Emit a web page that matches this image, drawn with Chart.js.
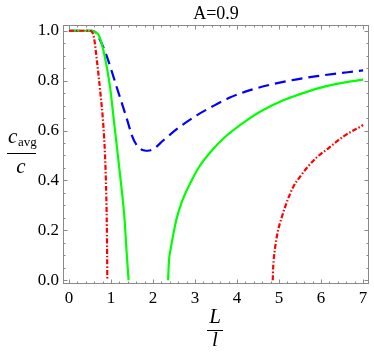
<!DOCTYPE html>
<html>
<head>
<meta charset="utf-8">
<script src="https://cdn.jsdelivr.net/npm/chart.js@4.4.0/dist/chart.umd.min.js"></script>
<style>
  html, body { margin: 0; padding: 0; background: #fff; }
  #wrap { position: relative; width: 374px; height: 354px; }
</style>
</head>
<body>
<div id="wrap"><canvas id="chart"></canvas></div>
<script>
// A=0.9 : c_avg / c against L / l, three curves, two of which break off at zero

const xTicks = [0, 1, 2, 3, 4, 5, 6, 7];
const yTicks = [0, 0.2, 0.4, 0.6, 0.8, 1.0];

// red dot-dash, first branch
const redX1 = [0, 0.5, 0.55, 0.6, 0.66, 0.75, 0.82, 0.86, 0.88, 0.9, 0.91, 0.915];
const redY1 = [1, 1, 0.995, 0.97, 0.89, 0.75, 0.62, 0.5, 0.4, 0.25, 0.1, 0.0];
// red dot-dash, second branch
const redX2 = [4.85, 4.86, 4.9, 4.97, 5.06, 5.2, 5.34, 5.5, 5.66, 5.9, 6.15, 6.53, 7.0];
const redY2 = [0.0, 0.05, 0.122, 0.195, 0.25, 0.32, 0.375, 0.415, 0.45, 0.493, 0.526, 0.576, 0.622];

// green solid
const greenX1 = [0, 0.55, 0.62, 0.7, 0.74, 0.84, 0.98, 1.07, 1.16, 1.24, 1.32, 1.37, 1.4, 1.42];
const greenY1 = [1, 1, 0.995, 0.985, 0.97, 0.908, 0.774, 0.641, 0.508, 0.388, 0.254, 0.121, 0.05, 0.0];
const greenX2 = [2.36, 2.38, 2.42, 2.48, 2.56, 2.7, 2.92, 3.1, 3.35, 3.7, 4.23, 4.6, 5.1, 5.5, 5.9, 6.4, 7.0];
const greenY2 = [0.0, 0.075, 0.125, 0.18, 0.245, 0.32, 0.4, 0.455, 0.51, 0.572, 0.641, 0.68, 0.721, 0.746, 0.768, 0.788, 0.804];

// blue dashed
const blueX = [0, 0.55, 0.62, 0.66, 0.75, 0.88, 1.0, 1.13, 1.26, 1.39, 1.5, 1.6, 1.7, 1.8, 1.88, 2.0, 2.25, 2.6, 3.04, 3.4, 3.83, 4.31, 5.1, 5.9, 7.0];
const blueY = [1, 1, 0.995, 0.988, 0.96, 0.908, 0.848, 0.778, 0.71, 0.641, 0.58, 0.545, 0.527, 0.52, 0.519, 0.525, 0.561, 0.61, 0.661, 0.695, 0.732, 0.762, 0.795, 0.818, 0.841];

function pts(xs, ys) {
    return xs.map(function (x, i) { return { x: x, y: ys[i] }; });
}

const SERIF = 'Liberation Serif, Times New Roman, serif';
const FRAME = '#8a8a8a';
Chart.defaults.font.family = SERIF;

function line(data, color, dash) {
    return {
        data: data,
        borderColor: color,
        borderWidth: 2.2,
        borderDash: dash,
        pointRadius: 0,
        showLine: true,
        fill: false,
        cubicInterpolationMode: 'monotone'
    };
}

// frame with inward ticks on all four sides, plus title and fraction labels
const framePlugin = {
    id: 'mmaFrame',
    afterDatasetsDraw: function (chart) {
        const ctx = chart.ctx;
        const a = chart.chartArea;
        const xs = chart.scales.x;
        const ys = chart.scales.y;

        ctx.save();
        ctx.strokeStyle = FRAME;
        ctx.lineWidth = 1;
        ctx.strokeRect(a.left + 0.5, a.top + 0.5, a.right - a.left - 1, a.bottom - a.top - 1);

        ctx.beginPath();
        // x ticks every 0.2, major on integers
        for (let i = 0; i <= 35; i++) {
            const v = i / 5;
            const len = (i % 5 === 0) ? 4.5 : 2.5;
            const px = Math.round(xs.getPixelForValue(v)) + 0.5;
            ctx.moveTo(px, a.bottom);
            ctx.lineTo(px, a.bottom - len);
            ctx.moveTo(px, a.top);
            ctx.lineTo(px, a.top + len);
        }
        // y ticks every 0.05, major every 0.2
        for (let j = 0; j <= 20; j++) {
            const v = j / 20;
            const len = (j % 4 === 0) ? 4.5 : 2.5;
            const py = Math.round(ys.getPixelForValue(v)) + 0.5;
            ctx.moveTo(a.left, py);
            ctx.lineTo(a.left + len, py);
            ctx.moveTo(a.right, py);
            ctx.lineTo(a.right - len, py);
        }
        ctx.stroke();

        // title
        ctx.fillStyle = '#000';
        ctx.textAlign = 'center';
        ctx.textBaseline = 'alphabetic';
        ctx.font = '18px ' + SERIF;
        ctx.fillText('A=0.9', (a.left + a.right) / 2, 19);

        // y label: c_avg / c
        ctx.font = 'italic 21px ' + SERIF;
        ctx.textAlign = 'left';
        ctx.fillText('c', 8, 143);
        ctx.font = '13px ' + SERIF;
        ctx.fillText('avg', 18, 146);
        ctx.font = 'italic 21px ' + SERIF;
        ctx.textAlign = 'center';
        ctx.fillText('c', 21, 173);
        ctx.beginPath();
        ctx.strokeStyle = '#000';
        ctx.lineWidth = 1;
        ctx.moveTo(7, 153.5);
        ctx.lineTo(36, 153.5);
        ctx.stroke();

        // x label: L / l
        ctx.font = 'italic 21px ' + SERIF;
        ctx.fillText('L', 215, 323);
        ctx.fillText('l', 215, 346);
        ctx.beginPath();
        ctx.moveTo(207, 330.5);
        ctx.lineTo(223, 330.5);
        ctx.stroke();

        ctx.restore();
    }
};

new Chart(document.getElementById('chart'), {
    type: 'scatter',
    data: {
        datasets: [
            line(pts(redX1, redY1), '#ff0000', [5, 2, 1.5, 2]),
            line(pts(redX2, redY2), '#ff0000', [5, 2, 1.5, 2]),
            line(pts(greenX1, greenY1), '#00ff00', []),
            line(pts(greenX2, greenY2), '#00ff00', []),
            line(pts(blueX, blueY), '#0000ff', [11, 6])
        ]
    },
    options: {
        responsive: true,
        maintainAspectRatio: false,
        animation: false,
        layout: {
            padding: { top: 25, right: 5, left: 0, bottom: 0 }
        },
        plugins: {
            legend: { display: false },
            tooltip: { enabled: false },
            title: { display: false }
        },
        scales: {
            x: {
                type: 'linear',
                min: -0.14,
                max: 7.14,
                grid: { display: false, drawTicks: false },
                border: { display: false },
                afterBuildTicks: function (scale) {
                    scale.ticks = xTicks.map(function (v) { return { value: v }; });
                },
                afterFit: function (scale) { scale.height = 70; },
                ticks: {
                    padding: 4,
                    color: '#000',
                    font: { family: SERIF, size: 17 },
                    maxRotation: 0,
                    callback: function (v) { return String(v); }
                }
            },
            y: {
                type: 'linear',
                min: -0.015,
                max: 1.023,
                grid: { display: false, drawTicks: false },
                border: { display: false },
                afterBuildTicks: function (scale) {
                    scale.ticks = yTicks.map(function (v) { return { value: v }; });
                },
                afterFit: function (scale) { scale.width = 63; },
                ticks: {
                    padding: 4,
                    color: '#000',
                    font: { family: SERIF, size: 17 },
                    callback: function (v) { return v.toFixed(1); }
                }
            }
        }
    },
    plugins: [framePlugin]
});
</script>
</body>
</html>
